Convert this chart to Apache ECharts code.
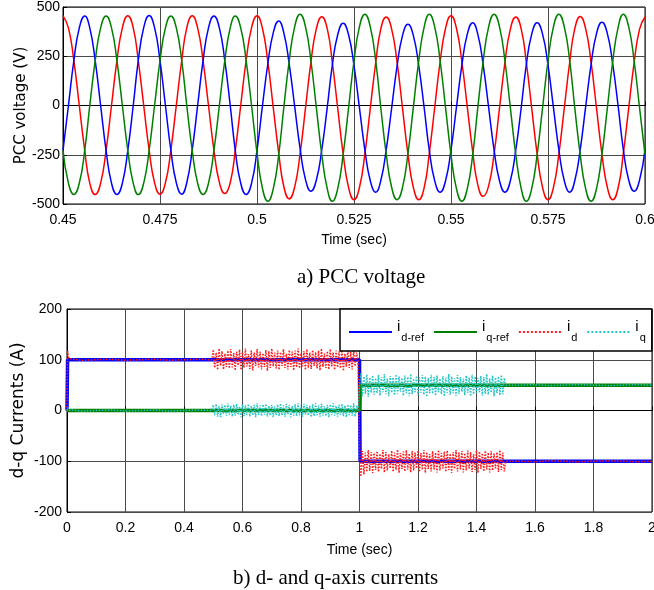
<!DOCTYPE html>
<html><head><meta charset="utf-8">
<script src="https://cdn.jsdelivr.net/npm/echarts@6/dist/echarts.min.js"></script>
<style>html,body{margin:0;padding:0;background:#fff}#c{width:654px;height:590px}</style>
</head><body><div id="c"></div>
<script>
// ---------- a) PCC voltage ----------
const vTime = [
0.4500,0.4514,0.4528,0.4542,0.4556,0.4569,0.4583,0.4597,0.4611,0.4625,0.4639,0.4653,
0.4667,0.4681,0.4694,0.4708,0.4722,0.4736,0.4750,0.4764,0.4778,0.4792,0.4806,0.4819,
0.4833,0.4847,0.4861,0.4875,0.4889,0.4903,0.4917,0.4931,0.4944,0.4958,0.4972,0.4986,
0.5000,0.5014,0.5028,0.5042,0.5056,0.5069,0.5083,0.5097,0.5111,0.5125,0.5139,0.5153,
0.5167,0.5181,0.5194,0.5208,0.5222,0.5236,0.5250,0.5264,0.5278,0.5292,0.5306,0.5319,
0.5333,0.5347,0.5361,0.5375,0.5389,0.5403,0.5417,0.5431,0.5444,0.5458,0.5472,0.5486,
0.5500,0.5514,0.5528,0.5542,0.5556,0.5569,0.5583,0.5597,0.5611,0.5625,0.5639,0.5653,
0.5667,0.5681,0.5694,0.5708,0.5722,0.5736,0.5750,0.5764,0.5778,0.5792,0.5806,0.5819,
0.5833,0.5847,0.5861,0.5875,0.5889,0.5903,0.5917,0.5931,0.5944,0.5958,0.5972,0.5986,
0.6000];
const vRed = [
455,394,228,0,-228,-394,-452,-394,-228,0,228,394,
456,394,228,0,-227,-392,-450,-392,-226,1,228,394,
455,394,227,0,-226,-390,-447,-392,-228,0,228,395,
456,392,220,-12,-242,-410,-474,-414,-246,-13,220,390,
451,390,220,-13,-246,-416,-478,-416,-246,-13,218,388,
449,388,220,-13,-246,-416,-478,-416,-244,-10,222,392,
455,392,222,-8,-236,-402,-461,-408,-246,-13,218,388,
449,388,220,-13,-246,-416,-478,-416,-246,-13,220,390,
452,390,220,-13,-246,-416,-478,-416,-246,-13,218,388,
449];
const vBlue = [
-228,0,228,394,454,394,228,0,-228,-394,-452,-394,
-228,0,228,395,457,395,228,0,-227,-392,-450,-392,
-226,0,228,394,454,394,228,0,-228,-394,-452,-394,
-228,-2,212,370,429,370,210,-3,-218,-376,-435,-378,
-224,-11,203,359,417,359,203,-11,-225,-382,-440,-382,
-225,-14,200,355,412,355,200,-14,-227,-382,-440,-382,
-225,-10,205,362,420,362,205,-10,-225,-382,-440,-382,
-225,-10,205,362,420,362,205,-10,-225,-382,-440,-382,
-224,-7,208,365,422,365,207,-7,-221,-378,-435,-378,
-222];
const vGreen = [
-228,-394,-452,-394,-228,0,228,394,454,394,228,0,
-228,-394,-452,-394,-228,0,228,394,454,394,228,0,
-228,-394,-452,-394,-228,0,228,394,454,394,228,0,
-240,-420,-486,-422,-249,-12,226,399,463,399,226,-12,
-249,-422,-486,-422,-249,-12,226,399,463,399,226,-10,
-245,-415,-478,-416,-245,-8,228,400,463,399,226,-12,
-249,-422,-486,-422,-249,-12,226,399,463,399,226,-12,
-249,-422,-486,-422,-249,-12,226,399,463,399,226,-12,
-249,-422,-486,-422,-249,-12,226,399,463,399,226,-12,
-249];

// ---------- b) d-q currents ----------
const refIdT = [0, 0.002, 1, 1.002, 2];
const refIdV = [0, 100, 100, -100, -100];
const refIqT = [0, 1, 1.003, 2];
const refIqV = [0, 0, 50, 50];

const curT = [
0,0.002,0.004,0.006,0.01,0.02,0.05,0.1,0.15,0.2,0.25,0.3,0.35,0.4,0.45,0.495,
0.5,0.505,0.51,0.515,0.52,0.525,0.53,0.535,0.54,0.545,
0.55,0.555,0.56,0.565,0.57,0.575,0.58,0.585,0.59,0.595,
0.6,0.605,0.61,0.615,0.62,0.625,0.63,0.635,0.64,0.645,
0.65,0.655,0.66,0.665,0.67,0.675,0.68,0.685,0.69,0.695,
0.7,0.705,0.71,0.715,0.72,0.725,0.73,0.735,0.74,0.745,
0.75,0.755,0.76,0.765,0.77,0.775,0.78,0.785,0.79,0.795,
0.8,0.805,0.81,0.815,0.82,0.825,0.83,0.835,0.84,0.845,
0.85,0.855,0.86,0.865,0.87,0.875,0.88,0.885,0.89,0.895,
0.9,0.905,0.91,0.915,0.92,0.925,0.93,0.935,0.94,0.945,
0.95,0.955,0.96,0.965,0.97,0.975,0.98,0.985,0.99,0.995,
1.0,1.002,
1.005,1.01,1.015,1.02,1.025,1.03,1.035,1.04,1.045,1.05,
1.055,1.06,1.065,1.07,1.075,1.08,1.085,1.09,1.095,1.1,
1.105,1.11,1.115,1.12,1.125,1.13,1.135,1.14,1.145,1.15,
1.155,1.16,1.165,1.17,1.175,1.18,1.185,1.19,1.195,1.2,
1.205,1.21,1.215,1.22,1.225,1.23,1.235,1.24,1.245,1.25,
1.255,1.26,1.265,1.27,1.275,1.28,1.285,1.29,1.295,1.3,
1.305,1.31,1.315,1.32,1.325,1.33,1.335,1.34,1.345,1.35,
1.355,1.36,1.365,1.37,1.375,1.38,1.385,1.39,1.395,1.4,
1.405,1.41,1.415,1.42,1.425,1.43,1.435,1.44,1.445,1.45,
1.455,1.46,1.465,1.47,1.475,1.48,1.485,1.49,1.495,1.5,
1.55,1.6,1.65,1.7,1.75,1.8,1.85,1.9,1.95,2.0];
const curId = [
0,118,108,103,100,101,99,100,101,99,100,101,99,100,101,100,
120,84,114,80,122,88,117,81,112,86,
118,83,121,85,113,79,116,89,120,80,
115,84,122,87,111,82,118,79,114,88,
121,85,116,81,113,86,119,78,117,84,
122,87,114,83,118,80,115,88,121,84,
112,81,119,86,116,79,118,85,122,83,
113,87,117,80,121,84,114,82,119,88,
115,83,118,79,122,86,112,84,117,81,
121,87,114,80,118,85,116,83,119,78,
112,86,121,84,115,81,118,87,114,100,
100,-105,
-130,-80,-126,-83,-121,-78,-119,-82,-123,-84,
-117,-80,-121,-85,-115,-78,-122,-82,-118,-86,
-114,-79,-121,-83,-117,-77,-123,-84,-115,-81,
-120,-78,-116,-85,-122,-80,-118,-83,-114,-79,
-121,-84,-117,-78,-123,-82,-115,-86,-120,-80,
-116,-83,-122,-78,-118,-84,-114,-81,-121,-79,
-117,-85,-123,-82,-115,-78,-120,-83,-116,-80,
-122,-84,-118,-79,-114,-82,-121,-86,-117,-78,
-123,-81,-115,-84,-120,-79,-116,-83,-122,-80,
-118,-85,-114,-82,-121,-78,-117,-83,-120,-100,
-100,-101,-99,-100,-101,-100,-99,-100,-101,-100];
const curIq = [
0,6,3,1,0,1,-1,0,1,-1,0,1,-1,0,1,0,
11,-9,13,-12,8,-13,12,-7,11,-10,
14,-8,9,-12,11,-10,13,-9,8,-13,
12,-11,10,-8,13,-12,9,-10,11,-13,
14,-9,10,-11,12,-8,13,-12,9,-10,
11,-13,8,-9,12,-11,14,-10,10,-12,
13,-8,11,-13,9,-10,12,-11,14,-9,
10,-12,13,-8,11,-10,9,-13,12,-11,
14,-9,10,-12,13,-10,8,-11,11,-13,
12,-9,14,-10,9,-12,11,-8,13,-11,
10,-13,12,-9,11,-10,14,-12,9,0,
0,62,
73,28,67,33,71,27,65,35,69,31,
64,34,70,29,66,36,72,32,63,28,
68,35,65,30,71,33,67,37,64,29,
69,34,66,28,72,32,63,36,68,30,
65,35,70,31,67,27,64,34,71,33,
66,29,69,36,63,32,68,28,65,35,
72,31,67,34,64,29,70,33,66,37,
63,30,69,35,65,28,71,32,67,34,
64,36,68,29,66,33,72,31,63,35,
69,28,65,34,67,30,70,32,64,50,
50,51,49,50,51,50,49,50,51,50];

const legendNames = ['id-ref','iq-ref','id','iq'];
const legendSubs = ['d-ref','q-ref','d','q'];

function zip(t, v) { return t.map((x, i) => [x, v[i]]); }

const chart = echarts.init(document.getElementById('c'), null, {renderer: 'canvas'});
const FONT = 'Liberation Sans, Arial, sans-serif';
const gridLine = {show: true, lineStyle: {color: '#4a4a4a', width: 1}};
const axisLineK = {show: true, lineStyle: {color: '#000', width: 1}};
const tickK = {show: true, inside: true, length: 4, lineStyle: {color: '#000'}};
const lblK = {color: '#000', fontSize: 14, fontFamily: FONT};

chart.setOption({
  animation: false,
  backgroundColor: '#fff',
  grid: [
    {left: 63, top: 7, width: 582, height: 197, show: true, borderColor: '#000', borderWidth: 1, outerBoundsMode: 'none', containLabel: false},
    {left: 67, top: 309, width: 585, height: 203, show: true, borderColor: '#000', borderWidth: 1, outerBoundsMode: 'none', containLabel: false}
  ],
  xAxis: [
    {gridIndex: 0, type: 'value', min: 0.45, max: 0.6, interval: 0.025,
     axisLine: axisLineK, axisTick: tickK, splitLine: gridLine,
     axisLabel: Object.assign({margin: 9}, lblK),
     name: 'Time (sec)', nameLocation: 'middle', nameGap: 29, nameMoveOverlap: false,
     nameTextStyle: {color: '#000', fontSize: 14, fontFamily: FONT}},
    {gridIndex: 1, type: 'value', min: 0, max: 2, interval: 0.2,
     axisLine: axisLineK, axisTick: tickK, splitLine: gridLine,
     axisLabel: Object.assign({margin: 9}, lblK),
     name: 'Time (sec)', nameLocation: 'middle', nameGap: 31, nameMoveOverlap: false,
     nameTextStyle: {color: '#000', fontSize: 14, fontFamily: FONT}}
  ],
  yAxis: [
    {gridIndex: 0, type: 'value', min: -500, max: 500, interval: 250,
     axisLine: axisLineK, axisTick: tickK, splitLine: gridLine,
     axisLabel: Object.assign({margin: 3}, lblK),
     name: 'PCC voltage (V)', nameLocation: 'middle', nameGap: 34, nameMoveOverlap: false,
     nameTextStyle: {color: '#000', fontSize: 15, fontFamily: 'DejaVu Sans'}},
    {gridIndex: 1, type: 'value', min: -200, max: 200, interval: 100,
     axisLine: axisLineK, axisTick: tickK, splitLine: gridLine,
     axisLabel: Object.assign({margin: 5}, lblK),
     name: 'd-q Currents (A)', nameLocation: 'middle', nameGap: 40, nameMoveOverlap: false,
     nameTextStyle: {color: '#000', fontSize: 17, fontFamily: 'DejaVu Sans'}}
  ],
  legend: {
    data: legendNames,
    left: 340, top: 309, width: 320,
    itemWidth: 43, itemHeight: 10, itemGap: 9,
    padding: [10, 6, 6, 8],
    borderColor: '#000', borderWidth: 1.5, backgroundColor: '#fff',
    selectedMode: false, z: 10,
    itemStyle: {opacity: 0},
    formatter: name => '{i|i}{s|' + legendSubs[legendNames.indexOf(name)] + '}',
    textStyle: {
      color: '#000',
      rich: {
        i: {fontSize: 15, fontFamily: FONT, lineHeight: 15, padding: [0, 1, 11, 0], color: '#000'},
        s: {fontSize: 11, fontFamily: FONT, lineHeight: 12, padding: [12, 0, 0, 0], color: '#000'}
      }
    }
  },
  graphic: [
    {type: 'text', left: 297, top: 267, style: {text: 'a) PCC voltage', font: '21px "Liberation Serif", "Times New Roman", serif', fill: '#000'}},
    {type: 'text', left: 233, top: 568, style: {text: 'b) d- and q-axis currents', font: '21px "Liberation Serif", "Times New Roman", serif', fill: '#000'}}
  ],
  series: [
    {name: 'Va', type: 'line', xAxisIndex: 0, yAxisIndex: 0, data: zip(vTime, vRed), smooth: true, symbol: 'none',
     lineStyle: {color: '#ff0000', width: 1.5}},
    {name: 'Vb', type: 'line', xAxisIndex: 0, yAxisIndex: 0, data: zip(vTime, vBlue), smooth: true, symbol: 'none',
     lineStyle: {color: '#0000ff', width: 1.5}},
    {name: 'Vc', type: 'line', xAxisIndex: 0, yAxisIndex: 0, data: zip(vTime, vGreen), smooth: true, symbol: 'none',
     lineStyle: {color: '#008000', width: 1.5}},
    {name: 'id-ref', type: 'line', xAxisIndex: 1, yAxisIndex: 1, data: zip(refIdT, refIdV), symbol: 'none',
     color: '#0000ff', lineStyle: {color: '#0000ff', width: 3.5}},
    {name: 'iq-ref', type: 'line', xAxisIndex: 1, yAxisIndex: 1, data: zip(refIqT, refIqV), symbol: 'none',
     color: '#008000', lineStyle: {color: '#008000', width: 3.5}},
    {name: 'id', type: 'line', xAxisIndex: 1, yAxisIndex: 1, data: zip(curT, curId), symbol: 'none',
     color: '#ff1a1a', lineStyle: {color: '#ff1a1a', width: 1.5, type: 'dotted'}},
    {name: 'iq', type: 'line', xAxisIndex: 1, yAxisIndex: 1, data: zip(curT, curIq), symbol: 'none',
     color: '#22c4c4', lineStyle: {color: '#22c4c4', width: 1.5, type: 'dotted'}}
  ]
});
</script>
</body></html>
